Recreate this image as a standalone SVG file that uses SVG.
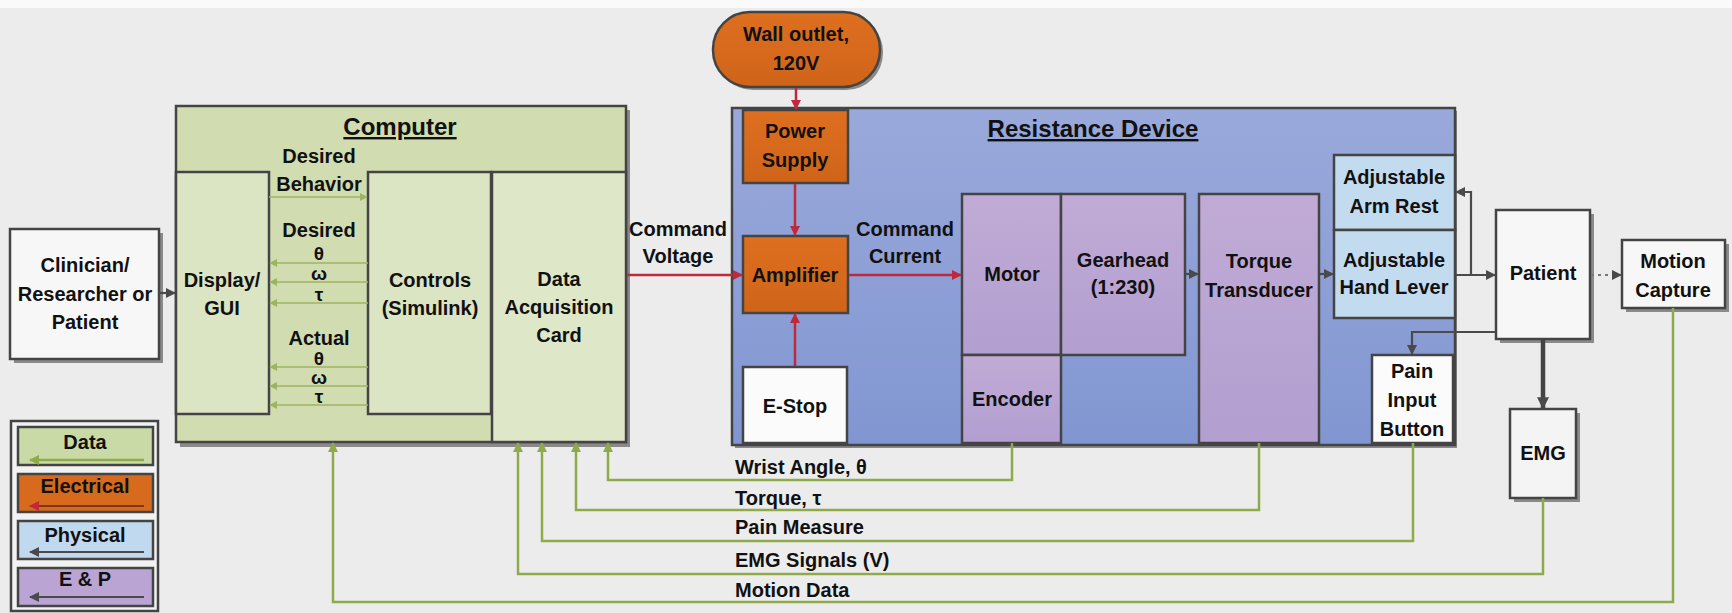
<svg xmlns="http://www.w3.org/2000/svg" width="1732" height="613" viewBox="0 0 1732 613">
<defs>
<style>
text{font-family:"Liberation Sans",Arial,sans-serif;font-weight:bold;font-size:20px;fill:#111;text-anchor:middle}
.title{font-size:24px;text-decoration:underline}
.left{text-anchor:start}
.gr{font-size:19px}
.bx{stroke:#444;stroke-width:2.5}
.sh{fill:#8a8a8a}
.cg{fill:none;stroke:#8faa4b;stroke-width:2.5}
.cgi{fill:none;stroke:#9cb562;stroke-width:1.6}
.cr{fill:none;stroke:#c0283c;stroke-width:2.5}
.ck{fill:none;stroke:#4a4a4a;stroke-width:2.2}
</style>
<linearGradient id="blue" x1="0" y1="0" x2="0" y2="1"><stop offset="0" stop-color="#9aa9db"/><stop offset="1" stop-color="#8196d1"/></linearGradient>
<linearGradient id="purp" x1="0" y1="0" x2="0" y2="1"><stop offset="0" stop-color="#c1abd6"/><stop offset="1" stop-color="#b29fd0"/></linearGradient>
<linearGradient id="orng" x1="0" y1="0" x2="0" y2="1"><stop offset="0" stop-color="#de6f20"/><stop offset="1" stop-color="#cf6419"/></linearGradient>
<marker id="ag" viewBox="0 0 10 10" refX="9" refY="5" markerWidth="10" markerHeight="10" markerUnits="userSpaceOnUse" orient="auto"><path d="M0,0 L10,5 L0,10 z" fill="#8faa4b"/></marker>
<marker id="agi" viewBox="0 0 10 10" refX="9" refY="5" markerWidth="8" markerHeight="8" markerUnits="userSpaceOnUse" orient="auto"><path d="M0,0 L10,5 L0,10 z" fill="#9cb562"/></marker>
<marker id="ar" viewBox="0 0 10 10" refX="9" refY="5" markerWidth="10" markerHeight="10" markerUnits="userSpaceOnUse" orient="auto"><path d="M0,0 L10,5 L0,10 z" fill="#c0283c"/></marker>
<marker id="ak" viewBox="0 0 10 10" refX="9" refY="5" markerWidth="10" markerHeight="10" markerUnits="userSpaceOnUse" orient="auto"><path d="M0,0 L10,5 L0,10 z" fill="#4a4a4a"/></marker>
<marker id="akb" viewBox="0 0 10 10" refX="9" refY="5" markerWidth="12" markerHeight="12" markerUnits="userSpaceOnUse" orient="auto"><path d="M0,0 L10,5 L0,10 z" fill="#4a4a4a"/></marker>
</defs>
<rect width="1732" height="613" fill="#ececec"/>
<rect width="1732" height="8" fill="#fafafa"/>

<g id="computer">
<rect class="sh" x="180" y="110" width="450" height="337"/>
<rect class="bx" x="176" y="106" width="450" height="336" fill="#d1dcb0"/>
<text class="title" x="400" y="135">Computer</text>
</g>
<g id="display">
<rect class="bx" x="176" y="172" width="93" height="242" fill="#dbe4c3"/>
<text x="222" y="287">Display/</text>
<text x="222" y="315">GUI</text>
</g>
<g id="controls">
<rect class="bx" x="368" y="172" width="123" height="242" fill="#dbe4c3"/>
<text x="430" y="287">Controls</text>
<text x="430" y="315">(Simulink)</text>
</g>
<g id="daq">
<rect class="bx" x="492" y="172" width="134" height="270" fill="#dfe7c9"/>
<text x="559" y="286">Data</text>
<text x="559" y="314">Acquisition</text>
<text x="559" y="342">Card</text>
</g>

<g id="clinician">
<rect class="sh" x="14" y="233" width="149" height="130"/>
<rect class="bx" x="10" y="229" width="149" height="130" fill="#f7f7f7"/>
<text x="85" y="272">Clinician/</text>
<text x="85" y="301">Researcher or</text>
<text x="85" y="329">Patient</text>
</g>

<g id="wall-outlet">
<rect class="sh" x="716" y="15" width="167" height="75" rx="37"/>
<rect class="bx" x="713" y="12" width="167" height="75" rx="37" fill="url(#orng)"/>
<text x="796" y="41">Wall outlet,</text>
<text x="796" y="70">120V</text>
</g>

<g id="resistance-device">
<rect class="sh" x="735" y="111" width="722" height="337"/>
<rect class="bx" x="732" y="108" width="723" height="337" fill="url(#blue)"/>
<text class="title" x="1093" y="137">Resistance Device</text>
</g>
<g id="power-supply">
<rect class="bx" x="743" y="110" width="105" height="73" fill="url(#orng)"/>
<text x="795" y="138">Power</text>
<text x="795" y="167">Supply</text>
</g>
<g id="amplifier">
<rect class="bx" x="743" y="236" width="105" height="77" fill="url(#orng)"/>
<text x="795" y="282">Amplifier</text>
</g>
<g id="estop">
<rect class="bx" x="743" y="367" width="104" height="76" fill="#fbfbfb"/>
<text x="795" y="413">E-Stop</text>
</g>
<g id="motor">
<rect class="bx" x="962" y="194" width="99" height="161" fill="url(#purp)"/>
<text x="1012" y="281">Motor</text>
</g>
<g id="gearhead">
<rect class="bx" x="1061" y="194" width="124" height="161" fill="url(#purp)"/>
<text x="1123" y="267">Gearhead</text>
<text x="1123" y="294">(1:230)</text>
</g>
<g id="encoder">
<rect class="bx" x="962" y="355" width="99" height="88" fill="url(#purp)"/>
<text x="1012" y="406">Encoder</text>
</g>
<g id="torque-transducer">
<rect class="bx" x="1199" y="194" width="120" height="249" fill="url(#purp)"/>
<text x="1259" y="268">Torque</text>
<text x="1259" y="297">Transducer</text>
</g>
<g id="arm-rest">
<rect class="bx" x="1334" y="155" width="121" height="75" fill="#c3dbef"/>
<text x="1394" y="184">Adjustable</text>
<text x="1394" y="213">Arm Rest</text>
</g>
<g id="hand-lever">
<rect class="bx" x="1334" y="230" width="121" height="88" fill="#c3dbef"/>
<text x="1394" y="267">Adjustable</text>
<text x="1394" y="294">Hand Lever</text>
</g>
<g id="pain-button">
<rect class="bx" x="1372" y="355" width="81" height="88" fill="#fbfbfb"/>
<text x="1412" y="378">Pain</text>
<text x="1412" y="407">Input</text>
<text x="1412" y="436">Button</text>
</g>

<g id="patient">
<rect class="sh" x="1500" y="214" width="94" height="129"/>
<rect class="bx" x="1496" y="210" width="94" height="129" fill="#f7f7f7"/>
<text x="1543" y="280">Patient</text>
</g>
<g id="motion-capture">
<rect class="sh" x="1626" y="244" width="103" height="68"/>
<rect class="bx" x="1622" y="240" width="103" height="68" fill="#f7f7f7"/>
<text x="1673" y="268">Motion</text>
<text x="1673" y="297">Capture</text>
</g>
<g id="emg">
<rect class="sh" x="1514" y="413" width="66" height="89"/>
<rect class="bx" x="1510" y="409" width="66" height="89" fill="#f4f4f4"/>
<text x="1543" y="460">EMG</text>
</g>

<g id="connectors">
<line class="ck" x1="159" y1="293" x2="175" y2="293" marker-end="url(#ak)"/>
<line class="cgi" x1="269" y1="197" x2="367" y2="197" marker-end="url(#agi)"/>
<line class="cgi" x1="368" y1="263" x2="270" y2="263" marker-end="url(#agi)"/>
<line class="cgi" x1="368" y1="282" x2="270" y2="282" marker-end="url(#agi)"/>
<line class="cgi" x1="368" y1="303" x2="270" y2="303" marker-end="url(#agi)"/>
<line class="cgi" x1="368" y1="367" x2="270" y2="367" marker-end="url(#agi)"/>
<line class="cgi" x1="368" y1="386" x2="270" y2="386" marker-end="url(#agi)"/>
<line class="cgi" x1="368" y1="405" x2="270" y2="405" marker-end="url(#agi)"/>
<line class="cr" x1="627" y1="275" x2="742" y2="275" marker-end="url(#ar)"/>
<line class="cr" x1="796" y1="88" x2="796" y2="109" marker-end="url(#ar)"/>
<line class="cr" x1="795" y1="184" x2="795" y2="235" marker-end="url(#ar)"/>
<line class="cr" x1="795" y1="366" x2="795" y2="314" marker-end="url(#ar)"/>
<line class="cr" x1="849" y1="275" x2="961" y2="275" marker-end="url(#ar)"/>
<line class="ck" x1="1186" y1="274" x2="1198" y2="274" marker-end="url(#ak)"/>
<line class="ck" x1="1320" y1="274" x2="1333" y2="274" marker-end="url(#ak)"/>
<line class="ck" x1="1456" y1="275" x2="1495" y2="275" marker-end="url(#ak)"/>
<polyline class="ck" points="1471,275 1471,192 1456,192" marker-end="url(#ak)"/>
<polyline class="ck" points="1496,332 1412,332 1412,354" marker-end="url(#ak)"/>
<line x1="1543" y1="340" x2="1543" y2="408" stroke="#444" stroke-width="4.5" marker-end="url(#akb)"/>
<line x1="1591" y1="275" x2="1621" y2="275" stroke="#777" stroke-width="2.2" stroke-dasharray="3,4" marker-end="url(#ak)"/>
<polyline class="cg" points="1012,443 1012,480 608,480 608,443" marker-end="url(#ag)"/>
<polyline class="cg" points="1259,443 1259,510 576,510 576,443" marker-end="url(#ag)"/>
<polyline class="cg" points="1413,443 1413,541 542,541 542,443" marker-end="url(#ag)"/>
<polyline class="cg" points="1543,498 1543,574 518,574 518,443" marker-end="url(#ag)"/>
<polyline class="cg" points="1673,308 1673,602 333,602 333,443" marker-end="url(#ag)"/>
</g>

<g id="labels">
<text x="319" y="163">Desired</text>
<text x="319" y="191">Behavior</text>
<text x="319" y="237">Desired</text>
<text class="gr" x="319" y="260">θ</text>
<text class="gr" x="319" y="280">ω</text>
<text class="gr" x="319" y="301">τ</text>
<text x="319" y="345">Actual</text>
<text class="gr" x="319" y="365">θ</text>
<text class="gr" x="319" y="384">ω</text>
<text class="gr" x="319" y="403">τ</text>
<text x="678" y="236">Command</text>
<text x="678" y="263">Voltage</text>
<text x="905" y="236">Command</text>
<text x="905" y="263">Current</text>
<text class="left" x="735" y="474">Wrist Angle, θ</text>
<text class="left" x="735" y="505">Torque, τ</text>
<text class="left" x="735" y="534">Pain Measure</text>
<text class="left" x="735" y="567">EMG Signals (V)</text>
<text class="left" x="735" y="597">Motion Data</text>
</g>

<g id="legend">
<rect x="11" y="421" width="147" height="190" fill="#f2f2f2" stroke="#444" stroke-width="2.5"/>
<rect class="bx" x="18" y="427" width="135" height="38" fill="#cadaa6"/>
<text x="85" y="449">Data</text>
<line class="cg" x1="144" y1="460" x2="30" y2="460" marker-end="url(#ag)"/>
<rect class="bx" x="18" y="474" width="135" height="38" fill="#d86a1d"/>
<text x="85" y="493">Electrical</text>
<line x1="144" y1="506" x2="30" y2="506" stroke="#7a3a1a" stroke-width="2" marker-end="url(#ar)"/>
<rect class="bx" x="18" y="521" width="135" height="38" fill="#c1d9ee"/>
<text x="85" y="542">Physical</text>
<line class="ck" x1="144" y1="552" x2="30" y2="552" marker-end="url(#ak)"/>
<rect class="bx" x="18" y="568" width="135" height="38" fill="#b9a4d3"/>
<text x="85" y="586">E &amp; P</text>
<line class="ck" x1="144" y1="597" x2="30" y2="597" marker-end="url(#ak)"/>
</g>
</svg>
